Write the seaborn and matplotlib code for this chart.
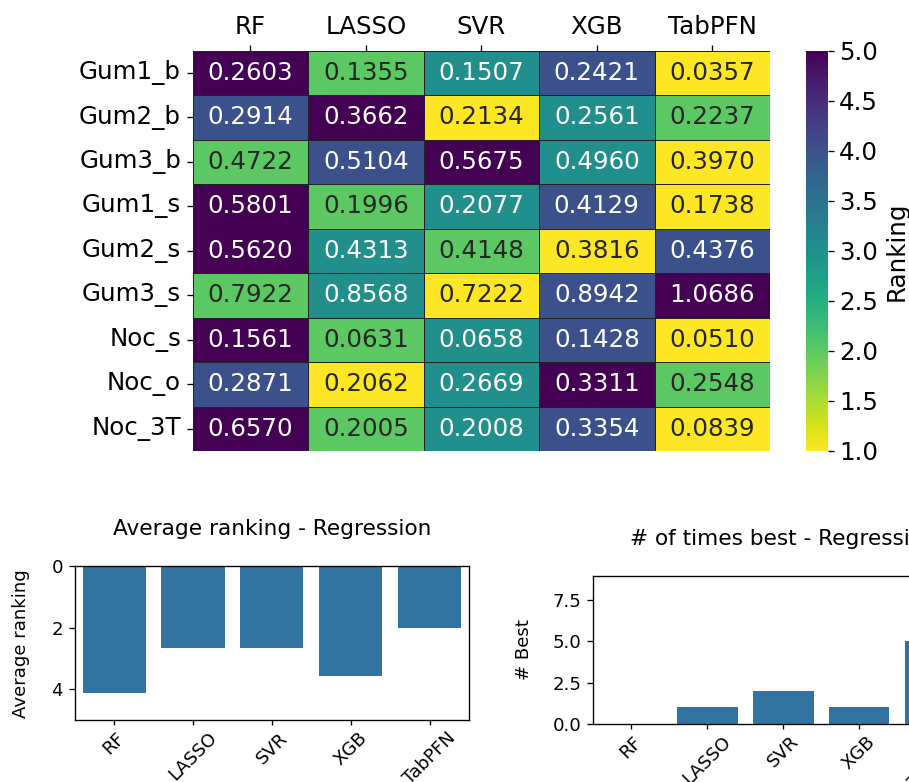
import numpy as np
import pandas as pd
import matplotlib
matplotlib.use("Agg")
import matplotlib.pyplot as plt
import seaborn as sns

models = ["RF", "LASSO", "SVR", "XGB", "TabPFN"]
datasets = ["Gum1_b", "Gum2_b", "Gum3_b", "Gum1_s", "Gum2_s", "Gum3_s", "Noc_s", "Noc_o", "Noc_3T"]

rf_vals = [0.2603, 0.2914, 0.4722, 0.5801, 0.5620, 0.7922, 0.1561, 0.2871, 0.6570]
lasso_vals = [0.1355, 0.3662, 0.5104, 0.1996, 0.4313, 0.8568, 0.0631, 0.2062, 0.2005]
svr_vals = [0.1507, 0.2134, 0.5675, 0.2077, 0.4148, 0.7222, 0.0658, 0.2669, 0.2008]
xgb_vals = [0.2421, 0.2561, 0.4960, 0.4129, 0.3816, 0.8942, 0.1428, 0.3311, 0.3354]
tabpfn_vals = [0.0357, 0.2237, 0.3970, 0.1738, 0.4376, 1.0686, 0.0510, 0.2548, 0.0839]

df = pd.DataFrame({"RF": rf_vals, "LASSO": lasso_vals, "SVR": svr_vals,
                   "XGB": xgb_vals, "TabPFN": tabpfn_vals}, index=datasets)
ranks = df.rank(axis=1)
avg_rank = ranks.mean(axis=0)
n_best = (ranks == 1).sum(axis=0)

W, H, DPI = 909, 782, 120
fig = plt.figure(figsize=(W / DPI, H / DPI), dpi=DPI)

HM_FS = 14.7
SM_FS = 10.9
TI_FS = 13.0

def box(l, t, r, b):
    return [l / W, (H - b) / H, (r - l) / W, (b - t) / H]

ax_h = fig.add_axes(box(192.7, 50.7, 770, 451))
cax = fig.add_axes(box(806, 50.7, 827.5, 451))

sns.heatmap(ranks, annot=df.values, fmt=".4f", cmap="viridis_r", vmin=1, vmax=5,
            ax=ax_h, cbar_ax=cax, linewidths=0.6, linecolor="#222222",
            annot_kws={"fontsize": HM_FS})
ax_h.xaxis.tick_top()
ax_h.set_xticklabels(models, fontsize=HM_FS, rotation=0)
ax_h.set_yticklabels(datasets, fontsize=HM_FS, rotation=0)
ax_h.set_xlabel("")
ax_h.set_ylabel("")
cax.tick_params(labelsize=HM_FS)
cax.set_ylabel("Ranking", fontsize=HM_FS)

ax1 = fig.add_axes(box(74.7, 566.3, 469, 720))
sns.barplot(x=models, y=avg_rank.values, ax=ax1)
ax1.set_ylim(5, 0)
ax1.set_yticks([0, 2, 4])
ax1.set_ylabel("Average ranking", fontsize=SM_FS, labelpad=13)
ax1.set_title("Average ranking - Regression", pad=18.5, fontsize=TI_FS)
ax1.tick_params(labelsize=SM_FS)
ax1.tick_params(axis="x", length=3, pad=2.5)
plt.setp(ax1.get_xticklabels(), rotation=45)

ax2 = fig.add_axes(box(593.3, 575.7, 973, 723.7))
sns.barplot(x=models, y=n_best.values, ax=ax2)
ax2.set_ylim(0, 9)
ax2.set_yticks([0, 2.5, 5, 7.5])
ax2.set_ylabel("# Best", fontsize=SM_FS, labelpad=12)
ax2.set_title("# of times best - Regression", pad=18.5, fontsize=TI_FS)
ax2.tick_params(labelsize=SM_FS)
ax2.tick_params(axis="x", length=3, pad=2.5)
plt.setp(ax2.get_xticklabels(), rotation=45)

fig.savefig("out.png", dpi=DPI)
